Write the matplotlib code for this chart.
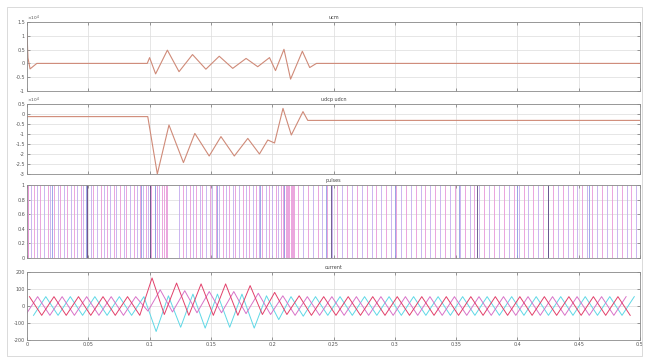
import numpy as np
import matplotlib
matplotlib.use('Agg')
import matplotlib.pyplot as plt
from matplotlib.ticker import FuncFormatter, MultipleLocator
from matplotlib.patches import Rectangle

# ---- data ----
titles = ['ucm', 'udcp udcn', 'pulses', 'current']

# panel 1 (x1e4)
ucm_t = [0, 0.0008, 0.0025, 0.008, 0.0981, 0.1000, 0.1049, 0.1145, 0.1240, 0.1350,
         0.1459, 0.1568, 0.1678, 0.1787, 0.1882, 0.1978, 0.2027, 0.2096, 0.2150,
         0.2246, 0.2306, 0.2361, 0.5]
ucm_v = [1.1, 0.2, -0.2, 0, 0, 0.21, -0.38, 0.48, -0.30, 0.32, -0.21, 0.26, -0.18,
         0.18, -0.12, 0.21, -0.26, 0.51, -0.57, 0.44, -0.15, 0, 0]

# panel 2 (x1e4)
udc_t = [0, 0.0985, 0.1063, 0.1158, 0.1276, 0.1369, 0.1486, 0.1582, 0.1691, 0.1801,
         0.1896, 0.1964, 0.2019, 0.2088, 0.2156, 0.2251, 0.2290, 0.5]
udc_v = [-0.13, -0.13, -3.0, -0.55, -2.43, -0.97, -2.1, -1.13, -2.1, -1.22, -2.0,
         -1.3, -1.45, 0.28, -1.05, 0.12, -0.32, -0.32]

# panel 3: switching instants (ms)
pulse_pink = [0.5, 1, 6, 11, 17, 22, 27, 33, 38, 44, 49, 54, 60, 65, 71, 76, 81, 87,
              92, 97, 101, 106, 110, 112, 113, 114, 127, 133, 138, 143, 149, 154, 160,
              165, 170, 176, 181, 187, 192, 197, 203, 207, 209, 210, 211, 212, 213, 214,
              215, 216, 217, 218, 221, 229, 237, 245, 253, 261, 269, 277, 285, 293, 301,
              309, 317, 325, 333, 341, 349, 357, 365, 373, 381, 389, 397, 405, 413, 421,
              429, 437, 445, 453, 461, 469, 477, 485, 493, 500]
pulse_violet = [3, 8, 14, 19, 25, 30, 36, 41, 46, 52, 57, 63, 68, 73, 79, 84, 90, 95, 99,
                104, 108, 124, 130, 135, 141, 146, 151, 157, 162, 168, 173, 179, 184, 189,
                195, 200, 205, 225, 233, 241, 249, 257, 265, 273, 281, 289, 297, 305, 313,
                321, 329, 337, 345, 353, 361, 369, 377, 385, 393, 401, 409, 417, 425, 433,
                441, 449, 457, 465, 473, 481, 489, 497]
pulse_blue = [20, 48, 93, 104, 155, 190, 210, 244, 300, 352, 400, 458]
pulse_dark = [49, 100, 248, 367, 425]

# panel 4: three phase currents, extrema every half cycle
t_ext = np.arange(0.002, 0.5, 0.01)
ia = [55, -55, 55, -55, 55, -55, 55, -55, 55, -55,
      165, -50, 135, -55, 130, -55, 130, -55, 120, -50,
      80, -50, 60, -55, 55, -55, 55, -55, 55, -55,
      55, -55, 55, -55, 55, -55, 55, -55, 55, -55,
      55, -55, 55, -55, 55, -55, 55, -55, 55, -55]
ib = [-55, 55, -55, 55, -55, 55, -55, 55, -55, 55,
      -150, 60, -125, 70, -130, 70, -125, 70, -130, 60,
      -80, 55, -60, 55, -55, 55, -55, 55, -55, 55,
      -55, 55, -55, 55, -55, 55, -55, 55, -55, 55,
      -55, 55, -55, 55, -55, 55, -55, 55, -55, 55]
ic = [-55, 55, -55, 55, -55, 55, -55, 55, -55, 55,
      -30, 95, -35, 90, -40, 85, -40, 85, -45, 75,
      -50, 60, -55, 55, -55, 55, -55, 55, -55, 55,
      -55, 55, -55, 55, -55, 55, -55, 55, -55, 55,
      -55, 55, -55, 55, -55, 55, -55, 55, -55, 55]

W, H = 645, 358
fig = plt.figure(figsize=(W / 100, H / 100), dpi=100)
fig.patches.append(Rectangle((7 / W, 2 / H), 635 / W, 349 / H, transform=fig.transFigure,
                             fill=False, ec='#d4d4d4', lw=0.6))


def make_ax(top, bottom, ylim, ystep, title):
    ax = fig.add_axes([27 / W, 1 - bottom / H, 613 / W, (bottom - top) / H])
    ax.set_xlim(0, 0.5)
    ax.set_ylim(*ylim)
    ax.xaxis.set_major_locator(MultipleLocator(0.05))
    ax.yaxis.set_major_locator(MultipleLocator(ystep))
    ax.grid(True, color='#dcdcdc', lw=0.5)
    ax.set_axisbelow(True)
    ax.tick_params(direction='in', length=2, width=0.4, labelsize=3.5, colors='#555555',
                   top=True, right=True, pad=1.5)
    for s in ax.spines.values():
        s.set_color('#8a8a8a')
        s.set_linewidth(0.6)
    ax.set_title(title, fontsize=3.5, color='#444444', pad=2)
    ax.tick_params(axis='x', labelbottom=False)
    return ax


sci = FuncFormatter(lambda v, p: '%g' % (v / 1e4))
gfmt = FuncFormatter(lambda v, p: '%g' % v)

ax1 = make_ax(22, 91, (-1e4, 1.5e4), 0.5e4, titles[0])
ax1.yaxis.set_major_formatter(sci)
ax1.plot(ucm_t, np.array(ucm_v) * 1e4, color='#cf8a78', lw=0.8)
ax1.text(0.0, 1.03, r'$\times10^{4}$', transform=ax1.transAxes, fontsize=3.2, color='#555555')

ax2 = make_ax(104, 174, (-3e4, 0.5e4), 0.5e4, titles[1])
ax2.yaxis.set_major_formatter(sci)
ax2.plot(udc_t, np.array(udc_v) * 1e4, color='#cf8a78', lw=0.8)
ax2.text(0.0, 1.03, r'$\times10^{4}$', transform=ax2.transAxes, fontsize=3.2, color='#555555')

ax3 = make_ax(185, 258, (0, 1), 0.2, titles[2])
ax3.yaxis.set_major_formatter(gfmt)
ax3.vlines(np.array(pulse_violet) / 1000, 0, 1, color='#c3aaee', lw=0.6)
ax3.vlines(np.array(pulse_pink) / 1000, 0, 1, color='#e896d8', lw=0.6)
ax3.vlines(np.array(pulse_blue) / 1000, 0, 1, color='#8e9ae4', lw=0.6)
ax3.vlines(np.array(pulse_dark) / 1000, 0, 1, color='#5a4880', lw=0.6)

ax4 = make_ax(272, 340, (-200, 200), 100, titles[3])
ax4.yaxis.set_major_formatter(gfmt)
ax4.xaxis.set_major_formatter(gfmt)
ax4.tick_params(axis='x', labelbottom=True)
ax4.plot(t_ext + 1 / 300, ib, color='#5fd8e6', lw=0.7)
ax4.plot(t_ext - 1 / 300, ic, color='#d873c8', lw=0.7)
ax4.plot(t_ext, ia, color='#e2406a', lw=0.7)

fig.savefig('out.png', dpi=100)
